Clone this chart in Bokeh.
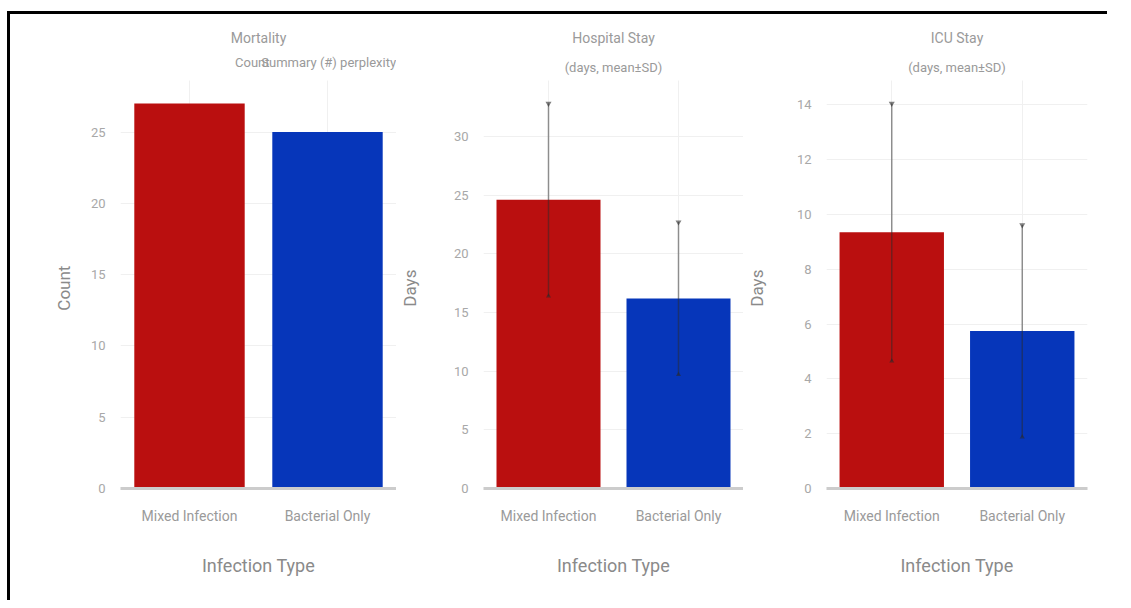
from bokeh.plotting import figure
from bokeh.models import Range1d, FixedTicker, Label, ColumnDataSource, Grid
from bokeh.layouts import row
from bokeh.embed import file_html
from bokeh.resources import INLINE

categories = ["Mixed Infection", "Bacterial Only"]
mortality_counts = [27, 25]
hospital_mean = [24.6, 16.2]
hospital_sd = [8.2, 6.5]
icu_mean = [9.35, 5.75]
icu_sd = [4.7, 3.87]
mortality_ticks = [0, 5, 10, 15, 20, 25]
hospital_ticks = [0, 5, 10, 15, 20, 25, 30]
icu_ticks = [0, 2, 4, 6, 8, 10, 12, 14]
bar_colors = ["#BA0F0F", "#0636BA"]
x_title = "Infection Type"
mortality_title = "Mortality"
mortality_sub = "Count"
mortality_overlap = "Summary (#) perplexity"
hospital_title = "Hospital Stay"
icu_title = "ICU Stay"
stay_sub = "(days, mean±SD)"

FONT = "Roboto"
DATA_H = 408      # pixel height of the data part (0 .. max*1.06)
TOP = 10
EXTRA = 56        # frame extends above the data part to hold the titles
BOTTOM = 112
HAS_CROSS = "cross_bounds" in Grid.properties()
TXT = "#9a9a9a"
# trailing no-break spaces keep the rotated y label centred on the data part
PAD = "\u00a0" * 15


def panel(vals, sds, ticks, ylabel, left, frame_w, right, label_standoff):
    hi = [v + s for v, s in zip(vals, sds)] if sds else list(vals)
    end = max(hi) * 1.06
    frame_h = DATA_H + EXTRA
    p = figure(x_range=categories, y_range=Range1d(0, end * frame_h / DATA_H),
               width=left + frame_w + right, height=TOP + frame_h + BOTTOM,
               min_border_left=left, min_border_right=right,
               min_border_top=TOP, min_border_bottom=BOTTOM,
               output_backend="svg", toolbar_location=None,
               outline_line_color=None, background_fill_color="white",
               border_fill_color=None)
    src = ColumnDataSource(dict(cat=categories, val=vals, color=bar_colors))
    p.vbar(x="cat", top="val", width=0.8, fill_color="color",
           line_color=None, source=src)
    if sds:
        esrc = ColumnDataSource(dict(cat=categories,
                                     lo=[v - s for v, s in zip(vals, sds)],
                                     hi=hi))
        p.segment(x0="cat", y0="lo", x1="cat", y1="hi", line_color="#2a2a2a",
                  line_alpha=0.5, line_width=1.5, source=esrc)
        p.scatter(x="cat", y="hi", marker="inverted_triangle", size=6,
                  fill_color="#2a2a2a", line_color=None, alpha=0.6, source=esrc)
        p.scatter(x="cat", y="lo", marker="triangle", size=5,
                  fill_color="#2a2a2a", line_color=None, alpha=0.6, source=esrc)

    p.yaxis.ticker = FixedTicker(ticks=ticks)
    p.yaxis.axis_line_color = None
    p.yaxis.major_tick_line_color = None
    p.yaxis.minor_tick_line_color = None
    p.yaxis.major_label_text_font = FONT
    p.yaxis.major_label_text_font_size = "13px"
    p.yaxis.major_label_text_color = "#a8a8a8"
    p.yaxis.major_label_standoff = 9
    p.yaxis.axis_label = ylabel + PAD
    p.yaxis.axis_label_text_font = FONT
    p.yaxis.axis_label_text_font_size = "17px"
    p.yaxis.axis_label_text_font_style = "normal"
    p.yaxis.axis_label_text_color = "#8a8a8a"
    p.yaxis.axis_label_standoff = label_standoff

    p.xaxis.axis_line_color = "#cccccc"
    p.xaxis.axis_line_width = 3
    p.xaxis.major_tick_line_color = None
    p.xaxis.minor_tick_line_color = None
    p.xaxis.major_label_text_font = FONT
    p.xaxis.major_label_text_font_size = "14px"
    p.xaxis.major_label_text_color = TXT
    p.xaxis.major_label_standoff = 13
    p.xaxis.axis_label = x_title
    p.xaxis.axis_label_text_font = FONT
    p.xaxis.axis_label_text_font_size = "18px"
    p.xaxis.axis_label_text_font_style = "normal"
    p.xaxis.axis_label_text_color = "#8a8a8a"
    p.xaxis.axis_label_standoff = 28

    p.ygrid.grid_line_color = "#f0f0f0"
    p.xgrid.grid_line_color = "#f0f0f0"
    if HAS_CROSS:
        p.xgrid.cross_bounds = (0, end)
    return p, end


def above(end, px):
    """data y that lies px pixels above the top of the data part"""
    return end + px * end / DATA_H


def label(p, x, y, text, size, align="center"):
    p.add_layout(Label(x=x, y=y, text=text, text_font=FONT,
                       text_font_size=size, text_color=TXT,
                       text_baseline="middle", text_align=align))


p1, e1 = panel(mortality_counts, None, mortality_ticks, "Count",
               110, 276, 0, 14)
label(p1, 1.0, above(e1, 43), mortality_title, "14px")
label(p1, 0.83, above(e1, 18), mortality_sub, "13px", "left")
label(p1, 1.02, above(e1, 18), mortality_overlap, "13px", "left")

p2, e2 = panel(hospital_mean, hospital_sd, hospital_ticks, "Days",
               69, 278, 0, 31)
label(p2, 1.0, above(e2, 43), hospital_title, "14px")
label(p2, 1.0, above(e2, 13), stay_sub, "13px")

p3, e3 = panel(icu_mean, icu_sd, icu_ticks, "Days",
               65, 279, 20, 27)
label(p3, 1.0, above(e3, 43), icu_title, "14px")
label(p3, 1.0, above(e3, 13), stay_sub, "13px")

layout = row(p1, p2, p3, styles={"border-top": "3px solid black",
                                 "border-left": "3px solid black",
                                 "margin-top": "11px",
                                 "margin-left": "7px"})

open("out.html", "w").write(file_html(layout, INLINE))
